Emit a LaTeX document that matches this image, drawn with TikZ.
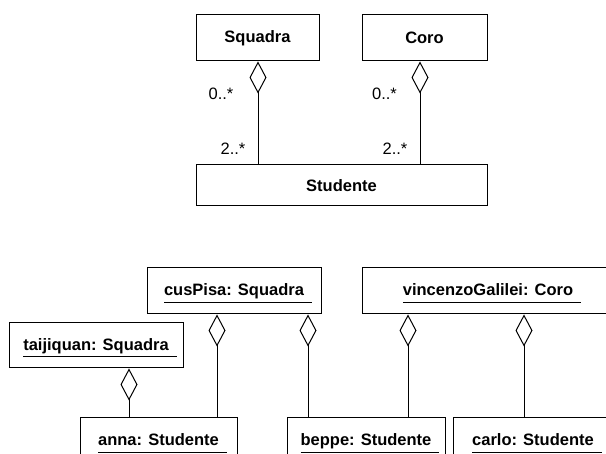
\documentclass[tikz,border=0pt]{standalone}
\usepackage{fontspec}
\setmainfont{Liberation Sans}
\usetikzlibrary{arrows.meta,calc}
\definecolor{umlink}{HTML}{000000}
\newcommand{\objtitle}[1]{\setbox0=\hbox{#1\kern8pt}%
  \makebox[0pt][l]{\raisebox{-7pt}{\rule{\wd0}{1pt}}}#1}
\tikzset{
  umlbox/.style={draw=umlink, line width=1pt, inner sep=0pt, minimum height=46pt,
                 font=\fontsize{16.5}{20}\selectfont\bfseries},
  umlobj/.style={umlbox, text height=17pt, text depth=7pt},
  umlagg/.style={arrows={Diamond[open,length=32pt,width=17pt]-}, draw=umlink, line width=1pt},
  umlmult/.style={inner sep=0pt, font=\fontsize{16.5}{20}\selectfont},
}
\begin{document}
\begin{tikzpicture}[x=1pt,y=-1pt]
  \useasboundingbox (0,0) rectangle (606,454);
  \clip (0,0) rectangle (606,454);
  % class diagram
  \node[umlbox,minimum width=123pt] (squadra) at (257.5,38) {Squadra};
  \node[umlbox,minimum width=125pt] (coro) at (424.5,38) {Coro};
  \node[umlbox,minimum width=291pt,minimum height=41pt] (studente) at (341.5,185.5) {Studente};
  \coordinate (sqagg) at ($(squadra.south)+(0.5,0)$);
  \coordinate (coagg) at ($(coro.south)+(-4.5,0)$);
  \draw[umlagg] (sqagg) -- (sqagg |- studente.north);
  \draw[umlagg] (coagg) -- (coagg |- studente.north);
  \node[umlmult] (sqtop) at (221,93.5) {0..*};
  \node[umlmult] (sqbot) at (233,148.5) {2..*};
  \node[umlmult] (cotop) at (384.5,93.5) {0..*};
  \node[umlmult] (cobot) at (395,148.5) {2..*};
  % object diagram
  \node[umlobj,minimum width=174pt] (cuspisa) at (234,291) {\objtitle{cusPisa: Squadra}};
  \node[umlobj,minimum width=174pt,minimum height=45pt] (taiji) at (96,345.5) {\objtitle{taijiquan: Squadra}};
  \node[umlobj,minimum width=252pt] (galilei) at (488,291) {\objtitle{vincenzoGalilei: Coro}};
  \node[umlobj,minimum width=157pt] (anna) at (158.5,441) {\objtitle{anna: Studente}};
  \node[umlobj,minimum width=158pt] (beppe) at (366,441) {\objtitle{beppe: Studente}};
  \node[umlobj,minimum width=160pt] (carlo) at (533,441) {\objtitle{carlo: Studente}};
  \coordinate (taanna) at ($(taiji.south)+(33,0)$);
  \coordinate (cuanna) at ($(cuspisa.south)+(-17,0)$);
  \coordinate (cubeppe) at ($(cuspisa.south)+(74,0)$);
  \coordinate (gabeppe) at ($(galilei.south)+(-80,0)$);
  \coordinate (gacarlo) at ($(galilei.south)+(36,0)$);
  \draw[umlagg] (taanna) -- (taanna |- anna.north);
  \draw[umlagg] (cuanna) -- (cuanna |- anna.north);
  \draw[umlagg] (cubeppe) -- (cubeppe |- beppe.north);
  \draw[umlagg] (gabeppe) -- (gabeppe |- beppe.north);
  \draw[umlagg] (gacarlo) -- (gacarlo |- carlo.north);
\end{tikzpicture}
\end{document}
